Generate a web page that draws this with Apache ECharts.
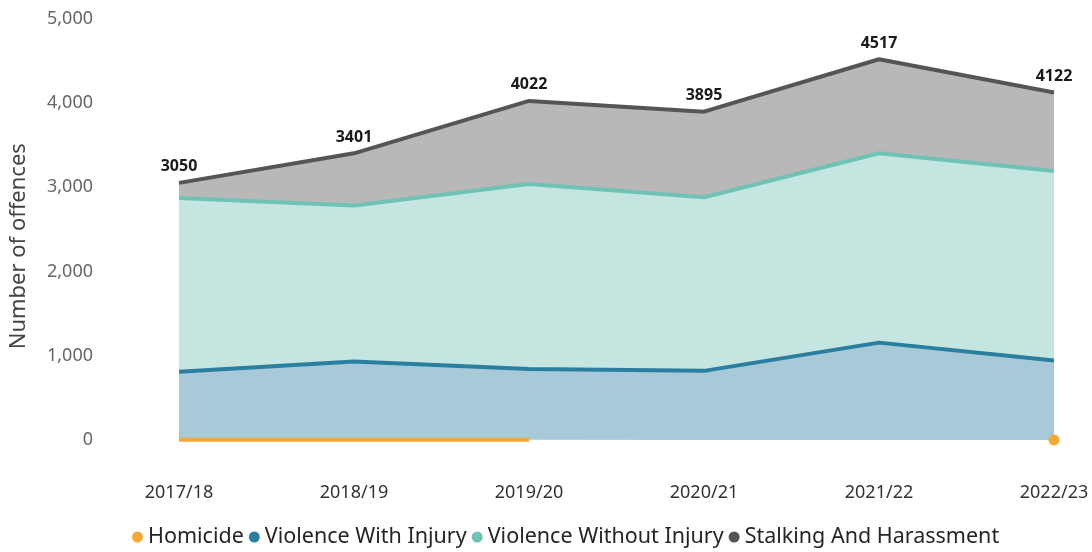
<!DOCTYPE html>
<html>
<head>
<meta charset="utf-8">
<script src="https://cdn.jsdelivr.net/npm/echarts@6/dist/echarts.min.js"></script>
<style>
  html, body { margin: 0; padding: 0; background: #fff; }
  #container { width: 1092px; height: 552px; }
</style>
</head>
<body>
<div id="container"></div>
<script>
var years = ['2017/18', '2018/19', '2019/20', '2020/21', '2021/22', '2022/23'];
var homicide = [3, 2, 2, null, null, 1];
var violenceWithInjury = [808, 928, 841, 820, 1155, 941];
var violenceWithoutInjury = [2061, 1853, 2195, 2060, 2247, 2250];
var stalkingHarassment = [178, 618, 984, 1015, 1115, 930];
var yTicks = [0, 1000, 2000, 3000, 4000, 5000];

var totals = years.map(function (y, i) {
    return (homicide[i] || 0) + violenceWithInjury[i] + violenceWithoutInjury[i] + stalkingHarassment[i];
});

var font = '"Noto Sans", "Open Sans", sans-serif';

// points with no neighbours get a dot, others are just the line
function homicideData() {
    return homicide.map(function (v, i) {
        var prev = i > 0 ? homicide[i - 1] : null;
        var next = i < homicide.length - 1 ? homicide[i + 1] : null;
        if (v != null && prev == null && next == null) {
            return { value: v, symbol: 'circle', symbolSize: 11 };
        }
        return v;
    });
}

var dom = document.getElementById('container');
var myChart = echarts.init(dom);
var option = {
    animation: false,
    grid: { left: 178, right: 38, top: 18.5, bottom: 112 },
    legend: {
        left: 127,
        top: 521,
        icon: 'circle',
        itemWidth: 11,
        itemHeight: 11,
        itemGap: 5,
        textStyle: { fontFamily: font, fontSize: 21.5, color: '#252525' },
        data: ['Homicide', 'Violence With Injury', 'Violence Without Injury', 'Stalking And Harassment']
    },
    xAxis: {
        type: 'category',
        data: years,
        boundaryGap: false,
        axisLine: { show: false },
        axisTick: { show: false },
        axisLabel: { margin: 44, fontFamily: font, fontSize: 18, color: '#333' }
    },
    yAxis: {
        type: 'value',
        min: yTicks[0],
        max: yTicks[yTicks.length - 1],
        interval: 1000,
        name: 'Number of offences',
        nameLocation: 'middle',
        nameGap: 149,
        nameTextStyle: { fontFamily: font, fontSize: 22, color: '#444', padding: [0, 34, 0, 0] },
        splitLine: { show: false },
        axisLine: { show: false },
        axisTick: { show: false },
        axisLabel: {
            margin: 86,
            fontFamily: font,
            fontSize: 18,
            color: '#666',
            formatter: function (v) { return v.toLocaleString('en-US'); }
        }
    },
    series: [
        {
            name: 'Homicide',
            type: 'line',
            stack: 'total',
            z: 5,
            data: homicideData(),
            showSymbol: true,
            symbol: 'none',
            lineStyle: { width: 4, color: '#F5A833' },
            itemStyle: { color: '#F5A833' },
            areaStyle: { color: '#F5A833', opacity: 1 }
        },
        {
            name: 'Violence With Injury',
            type: 'line',
            stack: 'total',
            data: violenceWithInjury,
            showSymbol: false,
            lineStyle: { width: 4, color: '#2A7EA0' },
            itemStyle: { color: '#2A7EA0' },
            areaStyle: { color: '#A7C9D8', opacity: 1 }
        },
        {
            name: 'Violence Without Injury',
            type: 'line',
            stack: 'total',
            data: violenceWithoutInjury,
            showSymbol: false,
            lineStyle: { width: 4, color: '#6FC3B5' },
            itemStyle: { color: '#6FC3B5' },
            areaStyle: { color: '#C5E6E0', opacity: 1 }
        },
        {
            name: 'Stalking And Harassment',
            type: 'line',
            stack: 'total',
            data: stalkingHarassment,
            showSymbol: true,
            symbol: 'circle',
            symbolSize: 0.1,
            lineStyle: { width: 4, color: '#555555' },
            itemStyle: { color: '#555555' },
            areaStyle: { color: '#B8B8B8', opacity: 1 },
            label: {
                show: true,
                position: 'top',
                distance: 8,
                fontFamily: font,
                fontSize: 16,
                fontWeight: 'bold',
                color: '#1a1a1a',
                formatter: function (p) { return totals[p.dataIndex]; }
            }
        }
    ]
};
myChart.setOption(option);
</script>
</body>
</html>
